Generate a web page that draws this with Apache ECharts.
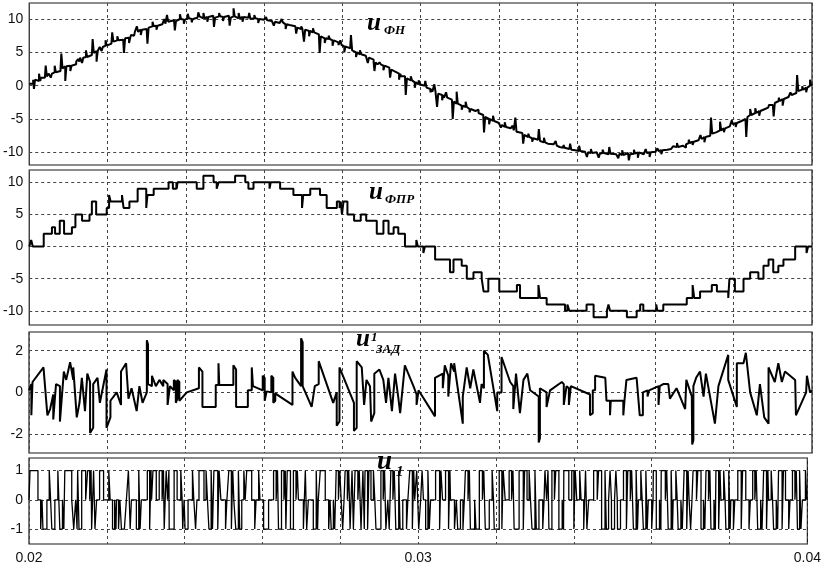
<!DOCTYPE html>
<html><head><meta charset="utf-8">
<script src="https://cdn.jsdelivr.net/npm/echarts@6/dist/echarts.min.js"></script>
<style>html,body{margin:0;padding:0;background:#fff}#c{width:824px;height:568px}</style>
</head><body><div id="c"></div>
<script>
// ---- data (time in ms) ----
const p1Start = 20, p1Step = 0.1; // sample time base of u_FN, ms
const p1Values = [
 0.3,0.9,0.7,1.2,1.4,1.8,2.0,2.2,2.6,2.9,
 3.0,3.2,3.6,4.2,4.3,4.6,4.9,5.2,5.8,6.0,
 6.3,6.6,6.8,6.9,7.1,7.2,7.6,8.1,8.4,8.5,
 8.7,8.9,9.0,9.2,9.3,9.6,9.8,9.7,10.0,9.9,
 10.1,10.0,10.2,10.4,10.1,10.3,10.5,10.2,10.4,10.3,
 10.5,10.2,10.4,10.1,10.3,10.2,10.0,10.1,10.0,9.9,
 9.8,9.7,9.6,9.4,9.5,9.2,9.1,8.9,8.7,8.5,
 8.4,8.2,8.0,7.7,7.4,7.1,7.0,6.8,6.5,6.1,
 5.9,5.6,5.3,5.0,4.7,4.5,4.2,3.9,3.5,3.2,
 3.0,2.7,2.4,2.1,1.8,1.4,1.1,0.8,0.5,0.2,
 0.0,-0.3,-0.5,-0.9,-1.2,-1.4,-1.8,-2.1,-2.4,-2.7,
 -3.0,-3.2,-3.5,-3.8,-4.1,-4.4,-4.7,-5.0,-5.3,-5.6,
 -5.9,-6.2,-6.4,-6.7,-6.9,-7.1,-7.4,-7.7,-7.9,-8.1,
 -8.3,-8.5,-8.7,-8.8,-9.0,-9.2,-9.3,-9.5,-9.6,-9.7,
 -9.8,-9.9,-10.0,-10.1,-10.0,-10.2,-10.1,-10.3,-10.2,-10.3,
 -10.2,-10.4,-10.1,-10.3,-10.2,-10.0,-10.3,-10.1,-10.0,-9.9,
 -9.8,-9.7,-9.6,-9.5,-9.3,-9.2,-9.0,-8.8,-8.6,-8.4,
 -8.2,-8.0,-7.7,-7.5,-7.2,-7.0,-6.7,-6.4,-6.1,-5.8,
 -5.6,-5.3,-5.0,-4.7,-4.4,-4.1,-3.8,-3.5,-3.2,-2.9,
 -2.6,-2.3,-2.0,-1.7,-1.4,-1.1,-0.8,-0.6,-0.3,0.0,
 0.3
];
// short noise spikes on u_FN: [time ms, value]
const p1Spikes = [
 [20.12,-0.5],[20.25,1.8],[20.42,3.0],[20.55,1.2],[20.65,3.0],[20.82,4.8],[20.92,0.7],[21.05,2.2],[21.25,4.0],[21.35,3.4],
 [21.45,5.3],[21.62,7.0],[21.72,3.6],[21.85,5.2],[21.95,6.8],[22.12,8.0],[22.25,7.4],[22.42,4.9],[22.55,6.4],[22.65,7.5],
 [22.75,8.9],[22.85,7.6],[23.02,6.3],[23.15,9.6],[23.25,8.4],[23.45,10.0],[23.52,10.6],[23.72,8.3],[23.85,10.7],[23.95,9.3],
 [24.05,10.8],[24.15,9.5],[24.32,11.0],[24.45,10.9],[24.55,9.6],[24.72,8.8],[24.85,10.9],[24.95,9.7],[25.12,9.0],[25.22,11.6],
 [25.35,10.9],[25.45,9.6],[25.62,10.9],[25.75,10.6],[25.85,9.4],[26.05,10.3],[26.25,9.0],[26.45,10.0],[26.55,8.5],[26.65,9.4],
 [26.82,7.8],[26.95,8.9],[27.02,6.6],[27.15,7.4],[27.25,8.6],[27.42,4.9],[27.55,6.4],[27.65,7.5],[27.75,6.0],[27.95,6.8],
 [28.05,5.0],[28.22,7.6],[28.35,4.3],[28.45,5.3],[28.65,3.4],[28.82,2.2],[28.95,3.5],[29.05,2.3],[29.22,1.2],[29.35,2.3],
 [29.45,0.9],[29.62,-1.4],[29.75,1.4],[29.85,-0.3],[29.95,0.8],[30.12,0.7],[30.25,-1.0],[30.35,0.2],[30.42,-3.2],[30.55,-2.2],
 [30.65,-1.0],[30.82,-5.0],[30.92,-0.9],[31.05,-3.6],[31.15,-2.4],[31.25,-4.0],[31.45,-3.6],[31.62,-7.0],[31.75,-5.8],[31.85,-4.5],
 [32.05,-6.3],[32.15,-5.5],[32.35,-6.0],[32.42,-4.8],[32.62,-8.7],[32.75,-7.2],[32.85,-8.4],[33.02,-6.5],[33.15,-7.8],[33.25,-9.0],
 [33.45,-8.3],[33.55,-9.4],[33.65,-8.9],[33.82,-8.7],[33.95,-9.9],[34.05,-9.0],[34.25,-10.7],[34.35,-9.5],[34.55,-10.8],[34.65,-9.6],
 [34.82,-9.2],[35.05,-10.9],[35.15,-9.7],[35.32,-11.2],[35.45,-9.6],[35.55,-10.8],[35.75,-9.5],[35.85,-10.7],[36.05,-9.4],[36.15,-10.3],
 [36.45,-9.1],[36.55,-8.6],[36.75,-9.3],[36.85,-8.1],[36.95,-8.9],[37.15,-7.4],[37.25,-8.5],[37.42,-4.8],[37.55,-6.7],[37.65,-5.4],
 [37.75,-7.0],[37.95,-5.2],[38.05,-6.2],[38.32,-7.7],[38.42,-3.5],[38.55,-3.4],[38.65,-4.5],[38.85,-3.3],[39.02,-4.6],[39.15,-1.8],
 [39.25,-3.0],[39.45,-1.0],[39.62,1.6],[39.75,-0.1],[39.85,-1.0],[39.95,0.9]
];
// staircase u_FPR: [time ms, level]
const p2Steps = [
 [20.00,0],[20.05,1],[20.09,0],[20.37,2],[20.58,3],[20.66,2],[20.78,4],[20.89,2],[21.09,3],[21.18,5],
 [21.35,4],[21.54,5],[21.60,7],[21.71,5],[21.98,6],[22.04,8],[22.08,7],[22.37,8],[22.41,6],[22.56,7],
 [22.77,9],[22.99,6],[23.02,8],[23.18,9],[23.56,10],[23.67,9],[23.76,10],[23.77,9],[23.79,10],[24.28,9],
 [24.45,11],[24.71,10],[24.79,9],[24.84,10],[25.26,11],[25.52,10],[25.60,9],[25.73,10],[26.14,9],[26.17,10],
 [26.41,9],[26.75,8],[26.97,6],[27.00,8],[27.18,9],[27.43,8],[27.60,6],[27.86,7],[27.93,6],[27.96,7],
 [27.99,5],[28.03,7],[28.13,5],[28.30,4],[28.47,5],[28.61,4],[28.88,2],[29.05,4],[29.18,2],[29.31,3],
 [29.43,2],[29.60,0],[29.89,1],[29.93,0],[30.07,-1],[30.11,0],[30.37,-2],[30.75,-4],[30.84,-2],[31.05,-3],
 [31.18,-5],[31.35,-4],[31.56,-5],[31.61,-7],[31.73,-5],[32.01,-7],[32.46,-6],[32.54,-8],[33.01,-6],[33.05,-8],
 [33.22,-9],[33.69,-10],[33.75,-9],[33.80,-10],[34.24,-9],[34.42,-11],[34.76,-10],[34.80,-9],[34.84,-10],[35.27,-11],
 [35.52,-10],[35.61,-9],[35.69,-10],[36.02,-9],[36.05,-10],[36.20,-9],[36.80,-8],[36.95,-6],[36.99,-8],[37.14,-7],
 [37.44,-6],[37.57,-7],[37.86,-8],[37.89,-5],[38.03,-7],[38.25,-5],[38.42,-4],[38.63,-5],[38.76,-3],[38.89,-2],
 [39.01,-4],[39.14,-3],[39.27,-2],[39.57,0],[39.86,-1],[39.90,0],[40.00,0]
];
// u1_ZAD: [time ms, value]
const p3Points = [
 [20.00,0.1],[20.06,0.4],[20.06,-1.1],[20.09,0.5],[20.37,1.2],[20.47,-1.1],[20.54,-0.8],[20.62,-0.1],[20.62,-1.3],[20.69,0.4],
 [20.79,0.3],[20.79,-1.4],[20.89,1.0],[20.95,0.6],[21.05,1.45],[21.13,0.6],[21.13,1.2],[21.22,-1.2],[21.29,-0.5],[21.35,0.7],
 [21.43,-0.9],[21.49,0.9],[21.56,0.5],[21.56,-1.95],[21.64,-1.7],[21.64,0.4],[21.75,0.7],[21.81,-0.5],[21.98,1.1],[21.98,-1.7],
 [22.08,-1.2],[22.08,-0.4],[22.24,0.0],[22.35,-0.6],[22.35,1.0],[22.48,1.4],[22.54,-0.3],[22.62,0.2],[22.75,-0.9],[22.82,0.3],
 [22.90,-0.5],[23.01,0.0],[23.01,2.5],[23.04,2.3],[23.04,0.4],[23.14,0.3],[23.14,0.8],[23.24,0.3],[23.33,0.6],[23.43,0.3],
 [23.43,0.6],[23.54,0.4],[23.54,-0.6],[23.60,0.3],[23.70,0.1],[23.70,0.6],[23.75,0.5],[23.75,-0.5],[23.79,-0.3],[23.79,0.6],
 [23.84,0.5],[23.84,-0.4],[24.03,0.0],[24.34,0.2],[24.34,1.2],[24.43,1.0],[24.43,-0.7],[24.77,-0.7],[24.77,0.35],[24.84,0.35],
 [24.84,1.4],[24.86,1.4],[24.86,0.35],[25.22,0.35],[25.22,1.3],[25.29,1.1],[25.29,-0.7],[25.59,-0.7],[25.59,0.1],[25.69,0.1],
 [25.69,1.2],[25.72,1.2],[25.72,0.3],[25.97,0.1],[25.97,0.8],[26.02,0.7],[26.02,-0.4],[26.07,0.05],[26.19,0.0],[26.19,0.8],
 [26.24,0.7],[26.24,-0.5],[26.29,-0.4],[26.29,-0.05],[26.41,-0.2],[26.73,-0.6],[26.73,1.0],[26.80,0.7],[26.95,0.3],[26.95,2.6],
 [26.99,2.4],[26.99,0.3],[27.22,-0.7],[27.30,0.3],[27.40,0.4],[27.40,1.5],[27.77,-0.5],[27.86,0.0],[27.86,-1.6],[27.93,-1.4],
 [27.93,1.2],[28.30,-0.5],[28.30,-1.85],[28.37,-1.7],[28.37,1.5],[28.50,1.2],[28.56,-0.6],[28.62,0.6],[28.71,0.3],[28.74,-1.4],
 [28.82,-1.0],[28.82,0.9],[28.95,1.1],[29.05,0.6],[29.12,-0.5],[29.18,0.7],[29.27,-0.9],[29.35,0.9],[29.43,-0.2],[29.48,-1.0],
 [29.60,1.3],[29.82,0.3],[29.90,-0.1],[29.90,-0.6],[29.95,0.1],[30.37,-1.15],[30.37,0.7],[30.57,0.9],[30.57,0.2],[30.62,1.3],
 [30.71,0.8],[30.71,-0.2],[30.78,1.4],[30.86,1.0],[30.86,1.4],[31.08,-1.5],[31.08,-0.2],[31.18,1.2],[31.27,0.2],[31.35,1.1],
 [31.52,-0.5],[31.56,0.4],[31.62,0.2],[31.62,2.0],[31.72,1.8],[31.96,-0.9],[31.96,0.0],[32.07,0.0],[32.07,1.7],[32.29,0.5],
 [32.37,0.3],[32.37,-0.8],[32.44,0.9],[32.54,-1.0],[32.63,0.6],[32.73,0.9],[32.80,0.1],[33.02,-0.2],[33.02,-2.4],[33.05,-2.2],
 [33.05,0.2],[33.22,0.0],[33.22,-0.7],[33.31,0.1],[33.61,0.5],[33.66,0.4],[33.66,-0.6],[33.73,0.3],[33.79,0.2],[33.79,-0.6],
 [33.84,0.3],[34.33,-0.1],[34.33,-1.1],[34.40,-1.0],[34.40,0.1],[34.46,0.1],[34.46,0.8],[34.72,0.7],[34.75,-0.4],[34.84,-0.4],
 [34.84,-1.1],[34.86,-1.1],[34.86,-0.4],[35.18,-0.4],[35.18,-1.1],[35.21,-1.1],[35.21,-0.4],[35.26,-0.4],[35.26,0.6],[35.52,0.7],
 [35.60,-1.1],[35.68,-1.1],[35.68,0.0],[35.80,0.1],[35.80,-0.2],[35.84,0.1],[36.08,0.3],[36.08,-0.6],[36.11,-0.6],[36.11,0.3],
 [36.20,0.4],[36.33,0.4],[36.37,-0.3],[36.54,0.2],[36.76,-0.8],[36.79,0.6],[36.93,-0.2],[36.94,-2.5],[36.97,-2.3],[36.97,0.3],
 [37.04,0.7],[37.14,1.0],[37.23,-0.2],[37.29,0.9],[37.52,-1.5],[37.61,0.3],[37.86,1.8],[37.86,0.6],[38.08,-0.7],[38.08,1.4],
 [38.25,1.4],[38.31,1.9],[38.42,0.0],[38.59,-1.1],[38.67,0.4],[38.78,-1.2],[38.89,-1.5],[38.89,1.2],[39.05,0.5],[39.14,1.4],
 [39.23,0.5],[39.31,1.0],[39.44,0.8],[39.57,0.6],[39.59,-1.1],[39.85,0.0],[39.87,0.8],[39.95,0.0],[40.00,0.1]
];
// u1 PWM levels: [time ms, level]
const p4Steps = [
 [20.000,0],[20.026,1],[20.230,0],[20.358,-1],[20.460,0],[20.587,-1],[20.664,0],[20.741,1],[20.792,-1],[20.920,1],
 [21.098,0],[21.149,-1],[21.354,1],[21.456,0],[21.507,1],[21.609,-1],[21.737,0],[21.814,1],[21.916,0],[22.146,-1],
 [22.248,0],[22.375,-1],[22.503,0],[22.554,1],[22.631,0],[22.759,-1],[22.886,0],[23.040,1],[23.270,0],[23.346,1],
 [23.474,-1],[23.525,1],[23.602,-1],[23.729,1],[23.806,0],[24.010,-1],[24.087,0],[24.368,1],[24.496,0],[24.623,-1],
 [24.751,1],[24.930,0],[25.134,1],[25.262,0],[25.313,-1],[25.467,0],[25.594,1],[25.722,0],[26.028,-1],[26.156,0],
 [26.284,1],[26.411,-1],[26.488,1],[26.718,-1],[26.794,1],[26.922,0],[27.050,-1],[27.178,0],[27.305,-1],[27.433,0],
 [27.484,1],[27.612,0],[27.765,-1],[27.893,1],[28.021,0],[28.123,1],[28.250,-1],[28.378,1],[28.531,-1],[28.634,1],
 [28.787,0],[28.915,-1],[29.042,1],[29.170,-1],[29.298,1],[29.425,-1],[29.604,0],[29.783,1],[29.911,0],[29.962,1],
 [30.013,-1],[30.064,0],[30.192,-1],[30.319,0],[30.447,1],[30.626,0],[30.703,1],[30.830,0],[30.932,-1],[31.086,0],
 [31.213,1],[31.341,-1],[31.571,1],[31.724,-1],[31.826,0],[31.954,-1],[32.082,1],[32.235,0],[32.337,1],[32.465,-1],
 [32.593,1],[32.797,0],[32.925,-1],[33.103,0],[33.257,1],[33.359,-1],[33.436,1],[33.615,-1],[33.742,1],[33.870,0],
 [33.946,1],[34.074,0],[34.253,-1],[34.381,0],[34.508,1],[34.713,-1],[34.892,0],[34.968,-1],[35.045,0],[35.122,-1],
 [35.198,0],[35.275,1],[35.530,-1],[35.658,0],[35.786,-1],[35.913,0],[36.041,1],[36.118,-1],[36.245,1],[36.424,-1],
 [36.552,0],[36.680,-1],[36.833,1],[36.961,0],[37.063,1],[37.267,-1],[37.395,1],[37.523,-1],[37.650,1],[37.778,0],
 [37.906,-1],[38.033,0],[38.212,1],[38.417,0],[38.595,1],[38.723,-1],[38.876,1],[39.004,0],[39.132,-1],[39.259,1],
 [39.438,0],[39.617,1],[39.745,-1],[39.872,0],[40.000,0]
];
// thin extra pulses in u1: [time ms, level]
const p4Pulses = [
 [20.30,-1],[20.52,1],[20.86,0],[21.20,0],[21.25,1],[21.56,0],[21.66,1],[22.05,1],[22.20,0],[22.30,-1],
 [22.45,-1],[22.60,-1],[22.82,1],[23.10,-1],[23.15,0],[23.42,0],[23.56,0],[23.90,1],[23.95,-1],[24.20,1],
 [24.28,-1],[24.55,1],[24.68,1],[24.85,-1],[25.05,-1],[25.20,-1],[25.38,1],[25.52,1],[25.80,-1],[25.90,1],
 [26.35,0],[26.55,0],[26.60,-1],[26.86,0],[27.10,1],[27.38,1],[27.70,-1],[27.82,0],[27.95,0],[28.06,-1],
 [28.18,0],[28.30,1],[28.45,0],[28.58,1],[28.70,-1],[28.85,1],[29.10,0],[29.22,0],[29.35,0],[29.50,1],
 [29.55,-1],[29.70,-1],[29.85,-1],[30.10,1],[30.25,1],[30.55,-1],[30.78,-1],[30.98,0],[31.15,-1],[31.28,0],
 [31.45,0],[31.50,-1],[31.65,0],[31.90,1],[32.15,-1],[32.40,0],[32.70,-1],[32.85,1],[33.00,1],[33.20,-1],
 [33.30,0],[33.50,0],[33.70,0],[34.00,-1],[34.15,1],[34.30,1],[34.60,0],[34.80,1],[34.93,1],[35.08,1],
 [35.35,-1],[35.45,0],[35.60,1],[35.72,1],[35.85,1],[36.00,-1],[36.20,0],[36.35,0],[36.50,1],[36.62,1],
 [36.75,0],[36.90,-1],[37.00,-1],[37.15,0],[37.33,0],[37.46,0],[37.60,0],[37.72,-1],[37.85,1],[37.98,1],
 [38.10,-1],[38.30,-1],[38.50,-1],[38.65,0],[38.80,0],[38.95,-1],[39.07,1],[39.20,0],[39.35,-1],[39.52,-1],
 [39.68,0],[39.80,1],[39.95,1]
];
const xTicks = [0.02, 0.03, 0.04];
const y1Ticks = [-10, -5, 0, 5, 10];
const y2Ticks = [-10, -5, 0, 5, 10];
const y3Ticks = [-2, 0, 2];
const y4Ticks = [-1, 0, 1];

// ---- build series data ----
const ms = t => t / 1000;
// merge short pulses into a step signal: each pulse lasts `w` ms, then the base level resumes
function withPulses(base, pulses, w) {
  const levelAt = t => { let v = base[0][1]; for (const b of base) { if (b[0] <= t) v = b[1]; else break; } return v; };
  const pts = base.slice();
  pulses.forEach(p => { pts.push([p[0], p[1]]); pts.push([p[0] + w, levelAt(p[0] + w)]); });
  pts.sort((a, b) => a[0] - b[0]);
  return pts.map(d => [ms(d[0]), d[1]]);
}
const p1Base = p1Values.map((v, i) => [p1Start + i * p1Step, v]);
const s1 = withPulses(p1Base, p1Spikes, 0.03);
const s2 = p2Steps.map(d => [ms(d[0]), d[1]]);
const s3 = p3Points.map(d => [ms(d[0]), d[1]]);
const s4 = withPulses(p4Steps, p4Pulses, 0.035);

// ---- chart ----
const grids = [
  {top: 3, height: 162},
  {top: 170, height: 155},
  {top: 332, height: 121},
  {top: 458, height: 86}
].map(g => Object.assign({left: 29, right: 12, show: true, borderColor: '#1a1a1a', borderWidth: 1.2, backgroundColor: '#fff'}, g));

const splitStyle = {show: true, lineStyle: {color: '#444', width: 1, type: [3, 3]}};
const xAxes = grids.map((g, i) => ({
  type: 'value', gridIndex: i, min: 0.02, max: 0.04, interval: 0.002,
  axisLine: {show: false}, axisTick: {show: false},
  splitLine: splitStyle,
  axisLabel: i === 3 ? {
    show: true, customValues: xTicks, margin: 7, color: '#111', fontSize: 14, fontFamily: 'Liberation Sans',
    formatter: v => v.toFixed(2)
  } : {show: false}
}));
const yRanges = [[-11.9, 12.4, y1Ticks], [-12.2, 11.9, y2Ticks], [-2.91, 2.9, y3Ticks], [-1.51, 1.43, y4Ticks]];
const yAxes = yRanges.map((r, i) => ({
  type: 'value', gridIndex: i, min: r[0], max: r[1],
  axisLine: {show: false},
  axisTick: {show: false, customValues: r[2]},
  splitLine: splitStyle,
  axisLabel: {customValues: r[2], margin: 6, color: '#111', fontSize: 14, fontFamily: 'Liberation Sans'}
}));

const lineBase = {type: 'line', showSymbol: false, symbol: 'none', animation: false, lineStyle: {color: '#000', width: 2}};
const series = [
  Object.assign({}, lineBase, {xAxisIndex: 0, yAxisIndex: 0, data: s1, step: 'end'}),
  Object.assign({}, lineBase, {xAxisIndex: 1, yAxisIndex: 1, data: s2, step: 'end'}),
  Object.assign({}, lineBase, {xAxisIndex: 2, yAxisIndex: 2, data: s3}),
  Object.assign({}, lineBase, {xAxisIndex: 3, yAxisIndex: 3, data: s4, step: 'end', lineStyle: {color: '#000', width: 1.3}})
];

const lab = (x, y, text, size) => ({type: 'text', x: x, y: y, z: 100,
  style: {text: text, fill: '#000', font: 'italic bold ' + size + 'px "Liberation Serif"', verticalAlign: 'bottom'}});
const graphic = [
  lab(367, 36, 'u', 25), lab(384, 37, 'ФН', 13),
  lab(369, 205, 'u', 25), lab(385, 206, 'ФПР', 13),
  lab(356, 352, 'u', 25), lab(371, 344, '1', 13), lab(376, 356, 'ЗАД', 13),
  lab(377, 476, 'u', 27), lab(396, 480, '1', 15)
];

const chart = echarts.init(document.getElementById('c'), null, {renderer: 'canvas'});
chart.setOption({animation: false, backgroundColor: '#fff', grid: grids, xAxis: xAxes, yAxis: yAxes, series: series, graphic: graphic});
</script></body></html>
